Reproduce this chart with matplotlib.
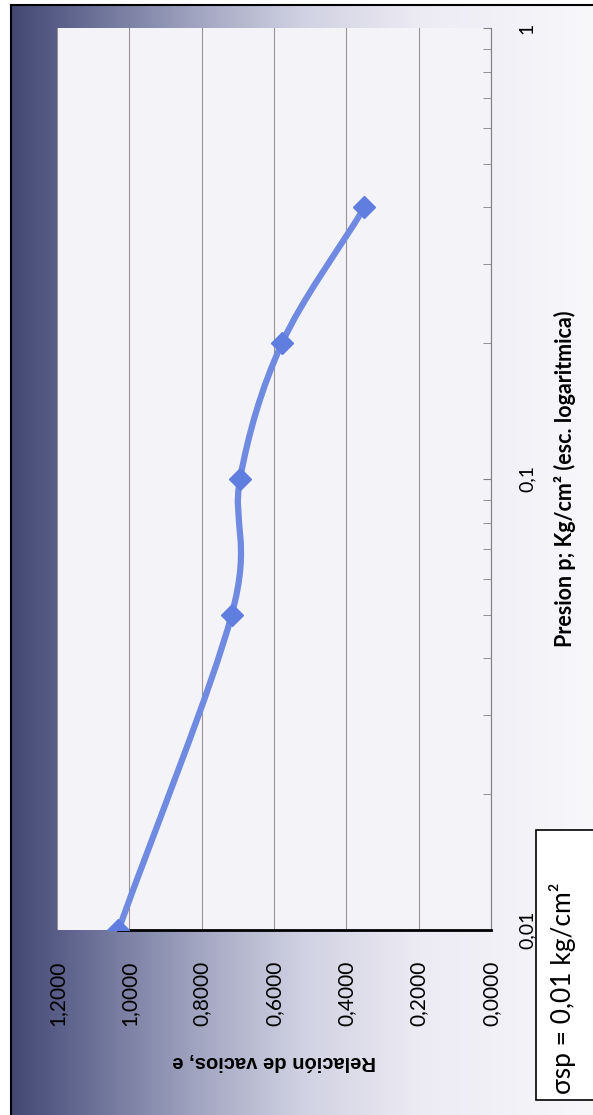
import numpy as np
import matplotlib
matplotlib.use('Agg')
import matplotlib.pyplot as plt
from matplotlib.path import Path
from matplotlib.patches import PathPatch, Rectangle
from matplotlib.colors import LinearSegmentedColormap

plt.rcParams['font.family'] = ['Lato', 'DejaVu Sans']

# consolidation data: pressure (kg/cm2, log scale) and void ratio e
presion = [0.01, 0.05, 0.1, 0.2, 0.4]
relacion_vacios = [1.03, 0.717, 0.694, 0.578, 0.35]

e_ticks = [0.0, 0.2, 0.4, 0.6, 0.8, 1.0, 1.2]
e_labels = ['0,0000', '0,2000', '0,4000', '0,6000', '0,8000', '1,0000', '1,2000']
p_ticks = [0.01, 0.1, 1]
p_labels = ['0,01', '0,1', '1']

line_color = '#6f8ae0'
W, H = 593, 1115

fig = plt.figure(figsize=(W / 100, H / 100), dpi=100)

# background (chart area with gradient, picture is rotated 90 deg)
bg = fig.add_axes([0, 0, 1, 1])
bg.set_xlim(0, W)
bg.set_ylim(H, 0)
bg.axis('off')
grad = LinearSegmentedColormap.from_list('g', [
    (0.0, '#424872'), (0.07, '#565c86'), (0.19, '#7a7fa3'),
    (0.33, '#a5a8c3'), (0.50, '#d0d1e2'), (0.70, '#eceaf3'), (1.0, '#f8f8fb')])
bg.imshow(np.linspace(0, 1, 256)[None, :], cmap=grad, aspect='auto',
          extent=(11, W, H, 5), zorder=0)
bg.plot([11, 11], [H, 5], color='black', lw=1.5)
bg.plot([11, W], [5, 5], color='black', lw=1.5)

# plot area
x0, x1, y0, y1 = 57, 491, 28, 930
ax = fig.add_axes([x0 / W, 1 - y1 / H, (x1 - x0) / W, (y1 - y0) / H])
ax.set_facecolor('#f4f4f8')
ax.set_xlim(1.2, 0)
ax.set_yscale('log')
ax.set_ylim(0.01, 1)

ax.set_xticks(e_ticks)
ax.set_xticklabels(e_labels, rotation=90, fontsize=15)
ax.tick_params(axis='x', length=0, pad=22)
ax.grid(axis='x', color='#9a9292', lw=0.8)

ax.yaxis.tick_right()
ax.set_yticks(p_ticks)
ax.set_yticklabels(p_labels, rotation=90, va='center', fontsize=14)
ax.tick_params(axis='y', which='both', direction='in', color='#808080', length=6, pad=20)
ax.tick_params(axis='y', which='minor', labelright=False)

for s in ['left', 'top', 'bottom']:
    ax.spines[s].set_visible(False)
ax.spines['right'].set_color('#808080')

ax.set_xlabel('Relación de vacios, e', family=['Liberation Sans'], fontweight='bold',
              fontsize=14.5, rotation=180, labelpad=19)
ax.yaxis.set_label_position('right')
ax.set_ylabel('Presion p; Kg/cm² (esc. logaritmica)', fontweight='bold',
              fontsize=15.5, rotation=90, labelpad=13)

# value axis line at the lowest pressure
ax.plot([relacion_vacios[0], 0], [presion[0], presion[0]], color='black', lw=2,
        clip_on=False, zorder=3)

# smoothed curve (cubic bezier through the points, in log space)
t = np.log10(presion)
e = np.array(relacion_vacios)
n = len(t)
mt = np.zeros(n)
me = np.zeros(n)
for i in range(n):
    a = max(i - 1, 0)
    b = min(i + 1, n - 1)
    k = 2.0 if 0 < i < n - 1 else 1.0
    mt[i] = (t[b] - t[a]) / k
    me[i] = (e[b] - e[a]) / k
verts = [(e[0], 10 ** t[0])]
codes = [Path.MOVETO]
for i in range(n - 1):
    verts.append((e[i] + me[i] / 3, 10 ** (t[i] + mt[i] / 3)))
    verts.append((e[i + 1] - me[i + 1] / 3, 10 ** (t[i + 1] - mt[i + 1] / 3)))
    verts.append((e[i + 1], 10 ** t[i + 1]))
    codes += [Path.CURVE4] * 3
ax.add_patch(PathPatch(Path(verts, codes), fill=False, ec=line_color, lw=4.5,
                       capstyle='round', zorder=4))
ax.plot(relacion_vacios, presion, ls='none', marker='D', ms=11, color='#5f7ee0', zorder=5)

# note box
bg.add_patch(Rectangle((536, 830), 80, 270, fc='white', ec='black', lw=1.2, zorder=2))
bg.text(562, 1094, 'σsp = 0,01 kg/cm²', rotation=90, ha='center', va='bottom',
        fontsize=19, zorder=3)

fig.savefig('out.png', dpi=100)
